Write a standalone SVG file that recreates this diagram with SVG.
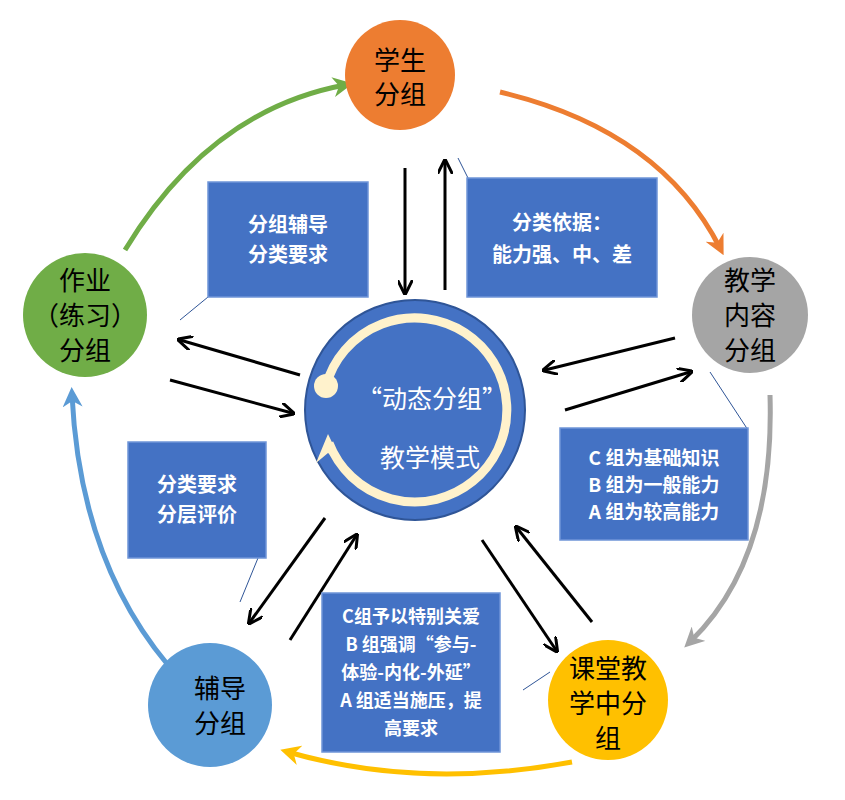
<svg xmlns="http://www.w3.org/2000/svg" width="845" height="800" viewBox="0 0 845 800">
<defs>
<style>
.t{font-family:"Noto Sans CJK SC","Noto Sans",sans-serif;fill:#000;text-anchor:middle}
.w{font-family:"Noto Sans CJK SC","Noto Sans",sans-serif;fill:#fff;text-anchor:middle;font-weight:bold}
.box{fill:#4472C4;stroke:#6f95d8;stroke-width:1.5}
.blk{stroke:#000;stroke-width:3;fill:none;marker-end:url(#ab)}
.lead{stroke:#2f5597;stroke-width:1}
</style>
<marker id="ab" viewBox="0 0 10 10" refX="8" refY="5" markerWidth="5" markerHeight="5" orient="auto"><path d="M0,0 L10,5 L0,10" fill="none" stroke="#000" stroke-width="2"/></marker>
<marker id="ao" viewBox="0 0 10 10" refX="6" refY="5" markerWidth="4" markerHeight="4" orient="auto"><path d="M0,0 L10,5 L0,10 L3,5Z" fill="#ED7D31"/></marker>
<marker id="ag" viewBox="0 0 10 10" refX="6" refY="5" markerWidth="4" markerHeight="4" orient="auto"><path d="M0,0 L10,5 L0,10 L3,5Z" fill="#70AD47"/></marker>
<marker id="ay" viewBox="0 0 10 10" refX="6" refY="5" markerWidth="4" markerHeight="4" orient="auto"><path d="M0,0 L10,5 L0,10 L3,5Z" fill="#FFC000"/></marker>
<marker id="agr" viewBox="0 0 10 10" refX="6" refY="5" markerWidth="4" markerHeight="4" orient="auto"><path d="M0,0 L10,5 L0,10 L3,5Z" fill="#A5A5A5"/></marker>
<marker id="abl" viewBox="0 0 10 10" refX="6" refY="5" markerWidth="4" markerHeight="4" orient="auto"><path d="M0,0 L10,5 L0,10 L3,5Z" fill="#5B9BD5"/></marker>
</defs>
<rect width="845" height="800" fill="#fff"/>
<g id="connectors">
<path d="M125,250 Q210,110 345,85" stroke="#70AD47" stroke-width="5" fill="none" marker-end="url(#ag)"/>
<path d="M500,92 Q660,130 720,248" stroke="#ED7D31" stroke-width="5" fill="none" marker-end="url(#ao)"/>
<path d="M770,395 Q775,560 690,642" stroke="#A5A5A5" stroke-width="5" fill="none" marker-end="url(#agr)"/>
<path d="M572,762 Q420,790 288,752" stroke="#FFC000" stroke-width="5" fill="none" marker-end="url(#ay)"/>
<path d="M168,665 Q80,560 72,395" stroke="#5B9BD5" stroke-width="5" fill="none" marker-end="url(#abl)"/>
<line class="blk" x1="405" y1="168" x2="405" y2="292"/>
<line class="blk" x1="445" y1="290" x2="445" y2="162"/>
<line class="blk" x1="300" y1="375" x2="180" y2="340"/>
<line class="blk" x1="170" y1="380" x2="292" y2="413"/>
<line class="blk" x1="675" y1="338" x2="545" y2="370"/>
<line class="blk" x1="565" y1="410" x2="690" y2="372"/>
<line class="blk" x1="482" y1="540" x2="556" y2="650"/>
<line class="blk" x1="592" y1="622" x2="517" y2="528"/>
<line class="blk" x1="325" y1="518" x2="250" y2="622"/>
<line class="blk" x1="290" y1="640" x2="356" y2="536"/>
<line class="lead" x1="458" y1="158" x2="468" y2="178"/>
<line class="lead" x1="180" y1="320" x2="208" y2="297"/>
<line class="lead" x1="710" y1="372" x2="748" y2="430"/>
<line class="lead" x1="240" y1="602" x2="258" y2="558"/>
<line class="lead" x1="523" y1="690" x2="550" y2="672"/>
</g>
<g id="center">
<circle cx="415" cy="410" r="110" fill="#4472C4" stroke="#2f5597" stroke-width="2"/>
<path d="M326,386 A92,92 0 1 1 329,443" stroke="#FFF2CC" stroke-width="9" fill="none"/>
<circle cx="326" cy="386" r="12" fill="#FFF2CC"/>
<path d="M316,463 L328,434 L341,461 L328,453 Z" fill="#FFF2CC"/>
<text class="t" x="432" y="408" font-size="25" style="fill:#fff">“动态分组”</text>
<text class="t" x="430" y="467" font-size="25" style="fill:#fff">教学模式</text>
</g>
<g id="n1"><circle cx="400" cy="75" r="55" fill="#ED7D31"/>
<text class="t" x="400" y="70" font-size="26">学生</text><text class="t" x="400" y="104" font-size="26">分组</text></g>
<g id="n2"><circle cx="750" cy="315" r="58" fill="#A5A5A5"/>
<text class="t" x="750" y="290" font-size="26">教学</text><text class="t" x="750" y="325" font-size="26">内容</text><text class="t" x="750" y="360" font-size="26">分组</text></g>
<g id="n3"><circle cx="608" cy="700" r="60" fill="#FFC000"/>
<text class="t" x="608" y="678" font-size="26">课堂教</text><text class="t" x="608" y="713" font-size="26">学中分</text><text class="t" x="608" y="748" font-size="26">组</text></g>
<g id="n4"><circle cx="210" cy="705" r="62" fill="#5B9BD5"/>
<text class="t" x="220" y="698" font-size="26">辅导</text><text class="t" x="220" y="733" font-size="26">分组</text></g>
<g id="n5"><circle cx="85" cy="315" r="62" fill="#70AD47"/>
<text class="t" x="85" y="290" font-size="26">作业</text><text class="t" x="85" y="325" font-size="26">（练习）</text><text class="t" x="85" y="360" font-size="26">分组</text></g>
<g id="b1"><rect class="box" x="208" y="182" width="160" height="115"/>
<text class="w" x="288" y="232" font-size="20">分组辅导</text><text class="w" x="288" y="262" font-size="20">分类要求</text></g>
<g id="b2"><rect class="box" x="467" y="178" width="190" height="119"/>
<text class="w" x="562" y="230" font-size="20">分类依据：</text><text class="w" x="562" y="262" font-size="20">能力强、中、差</text></g>
<g id="b3"><rect class="box" x="560" y="428" width="188" height="112"/>
<text class="w" x="654" y="465" font-size="19">C 组为基础知识</text><text class="w" x="654" y="492" font-size="19">B 组为一般能力</text><text class="w" x="654" y="519" font-size="19">A 组为较高能力</text></g>
<g id="b4"><rect class="box" x="128" y="442" width="138" height="116"/>
<text class="w" x="197" y="492" font-size="20">分类要求</text><text class="w" x="197" y="522" font-size="20">分层评价</text></g>
<g id="b5"><rect class="box" x="322" y="593" width="178" height="159"/>
<text class="w" x="411" y="623" font-size="18">C组予以特别关爱</text><text class="w" x="411" y="651" font-size="18">B 组强调“参与-</text><text class="w" x="411" y="679" font-size="18">体验-内化-外延”</text><text class="w" x="411" y="707" font-size="18">A 组适当施压，提</text><text class="w" x="411" y="735" font-size="18">高要求</text></g>
</svg>
